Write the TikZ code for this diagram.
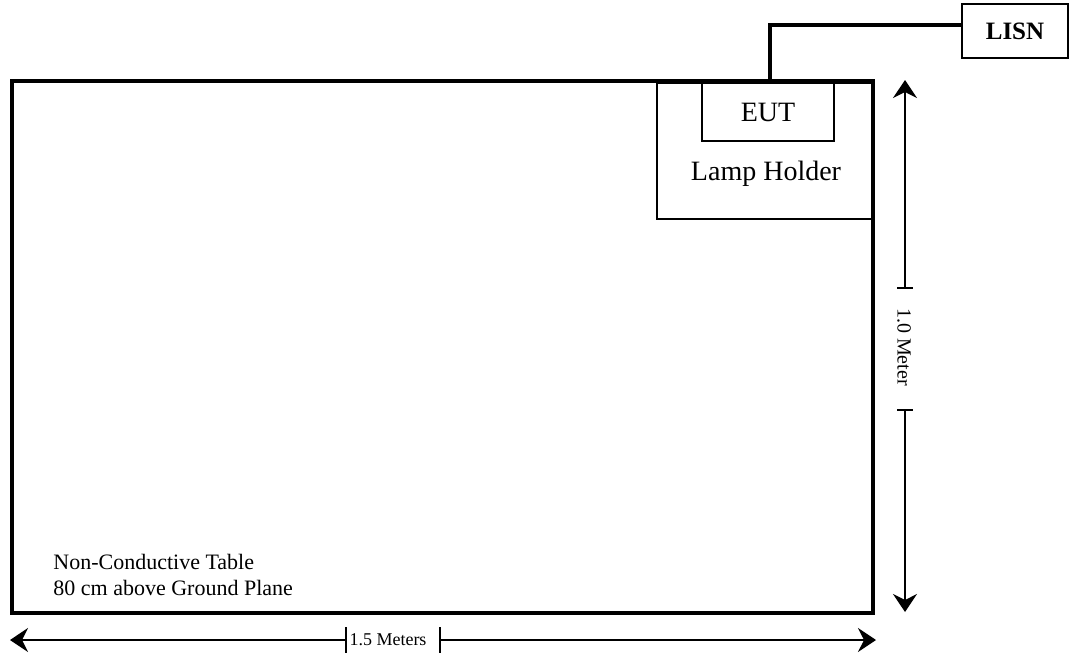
\documentclass[tikz,border=0pt]{standalone}
\usepackage{fontspec}
\setmainfont{Liberation Serif}
\usepackage{tikz}
\usetikzlibrary{arrows.meta}
\usetikzlibrary{positioning,calc}

\begin{document}
\begin{tikzpicture}[x=0.5pt,y=-0.5pt,
		thinbox/.style={draw,line width=0.75pt,inner sep=0pt},
		dimline/.style={line width=0.7pt,{Stealth[length=9pt,width=12pt,inset=3pt]}-},
		tickline/.style={line width=0.7pt}]
		\useasboundingbox (0,0) rectangle (1070,653);
		% lamp holder under the table edge
		\node[thinbox,minimum width=108pt,minimum height=68pt] (holder) at (765,151) {};
		\node[draw,line width=2pt,minimum width=430.5pt,minimum height=266pt] (table) at (442.5,347) {};
		\node[thinbox,minimum width=66pt,minimum height=29pt,font=\fontsize{14}{16}\selectfont] (eut) at (768,112) {EUT};
		\node[font=\fontsize{14}{16}\selectfont] (holdername) at (766,174) {Lamp Holder};
		\node[thinbox,minimum width=53pt,minimum height=27pt,font=\fontsize{12.5}{14}\selectfont\bfseries] (lisn) at (1015,31) {LISN};
		\draw[line width=2pt] ([xshift=1pt]eut.north) |- ([yshift=3pt]lisn.west);
		\node[anchor=west,align=left,inner sep=0pt,font=\fontsize{11}{13}\selectfont] (tabletext) at (53,575) {Non-Conductive Table\\80 cm above Ground Plane};
		% 1.0 Meter
		\coordinate (vtop) at (905,80);
		\coordinate (vbot) at (905,612);
		\coordinate (vgapa) at (905,288);
		\coordinate (vgapb) at (905,410);
		\node[rotate=-90,font=\fontsize{10}{12}\selectfont] (vlabel) at (904,347) {1.0 Meter};
		\draw[dimline] (vtop) -- (vgapa);
		\draw[dimline] (vbot) -- (vgapb);
		\draw[tickline] ($(vgapa)+(-8,0)$) -- ($(vgapa)+(8,0)$);
		\draw[tickline] ($(vgapb)+(-8,0)$) -- ($(vgapb)+(8,0)$);
		% 1.5 Meters
		\coordinate (hleft) at (10,640);
		\coordinate (hright) at (876,640);
		\coordinate (hgapa) at (346,640);
		\coordinate (hgapb) at (440,640);
		\node[font=\fontsize{9}{11}\selectfont] (hlabel) at (388,640) {1.5 Meters};
		\draw[dimline] (hleft) -- (hgapa);
		\draw[dimline] (hright) -- (hgapb);
		\draw[tickline] ($(hgapa)+(0,-13)$) -- ($(hgapa)+(0,13)$);
		\draw[tickline] ($(hgapb)+(0,-13)$) -- ($(hgapb)+(0,13)$);
	\end{tikzpicture}
\end{document}
